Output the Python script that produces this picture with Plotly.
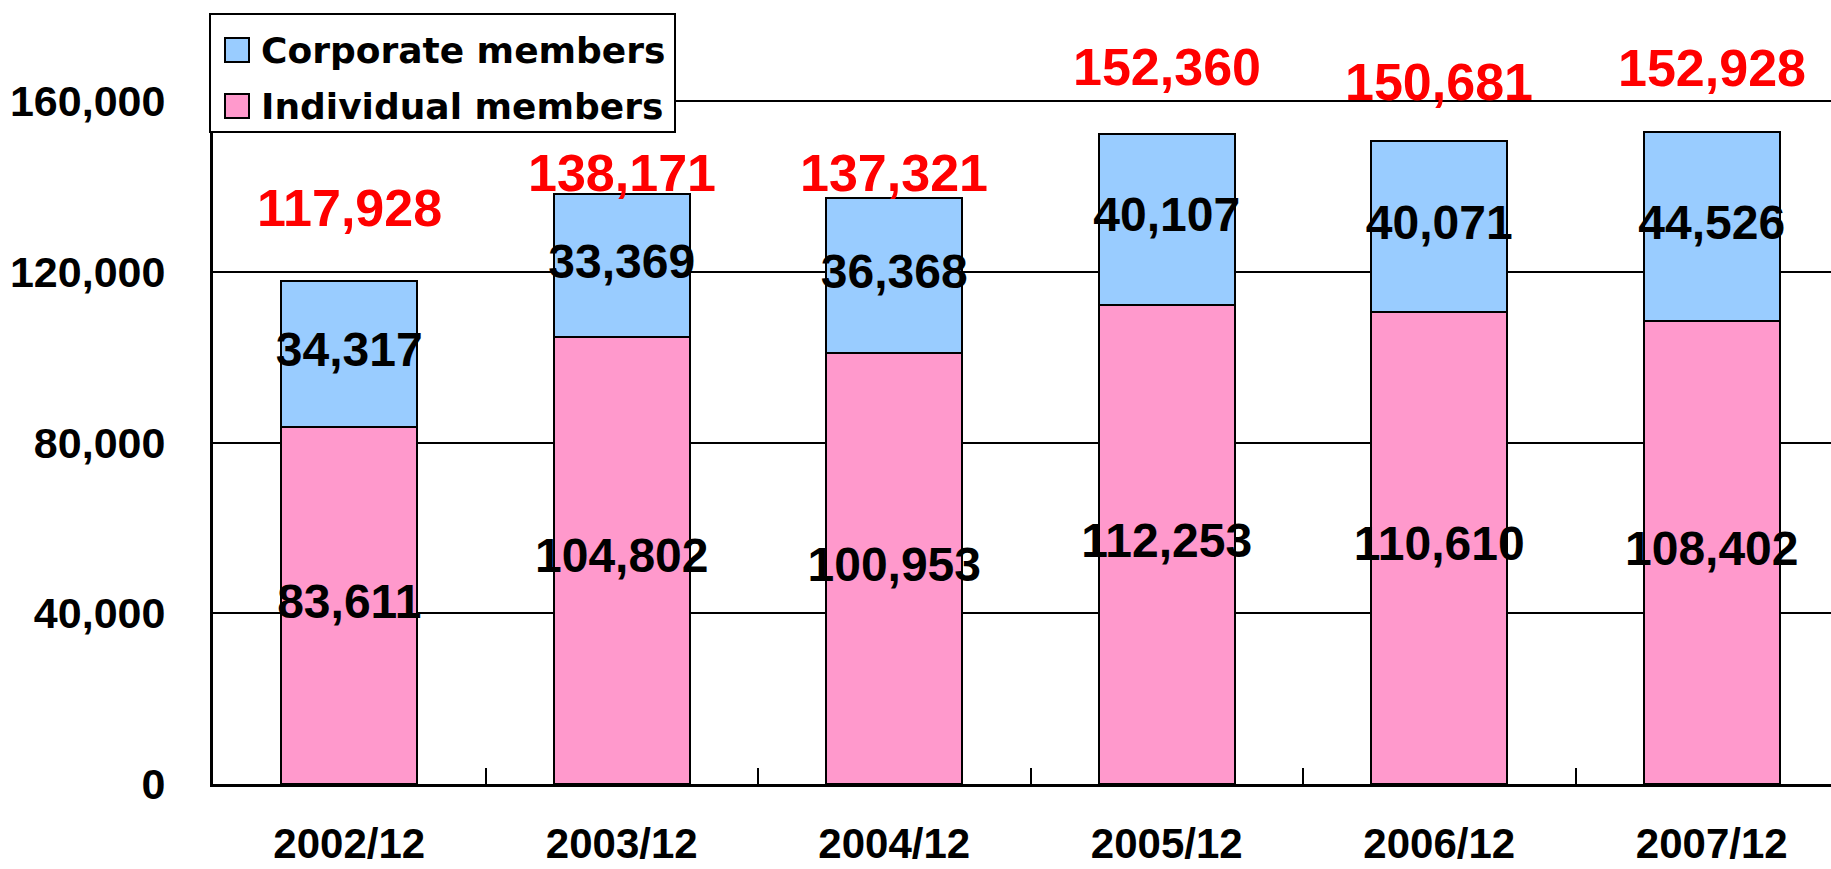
import plotly.graph_objects as go

# ---- data ----
categories = ["2002/12", "2003/12", "2004/12", "2005/12", "2006/12", "2007/12"]
individual_members = [83611, 104802, 100953, 112253, 110610, 108402]
corporate_members = [34317, 33369, 36368, 40107, 40071, 44526]
totals = [117928, 138171, 137321, 152360, 150681, 152928]
series_names = ["Corporate members", "Individual members"]
y_ticks = [0, 40000, 80000, 120000, 160000]

# ---- styling ----
PINK = "#FF99CC"
BLUE = "#99CCFF"
W, H = 1831, 869
ML, MR, MT, MB = 213, 0, 16, 85
PW, PH = W - ML - MR, H - MT - MB
CAT_PX = 272.5
total_label_shift = [73, 21, 25, 67, 59, 64]  # pixels above bar top

def fmt(v):
    return f"{v:,}"

def px_x(px):
    return (px - ML) / PW

def px_y(py):
    return (H - MB - py) / PH

fig = go.Figure()
fig.add_trace(go.Bar(
    x=categories, y=individual_members, name=series_names[1],
    marker=dict(color=PINK, line=dict(color="black", width=2)),
    width=0.5, showlegend=False, hoverinfo="skip"))
fig.add_trace(go.Bar(
    x=categories, y=corporate_members, name=series_names[0],
    marker=dict(color=BLUE, line=dict(color="black", width=2)),
    width=0.5, showlegend=False, hoverinfo="skip"))

seg_font = dict(family="Liberation Sans, Arial, sans-serif", size=48, color="black", weight="bold")
fig.add_trace(go.Scatter(
    x=categories, y=[v / 2 for v in individual_members],
    text=[fmt(v) for v in individual_members], mode="text",
    textfont=seg_font, showlegend=False, hoverinfo="skip", cliponaxis=False))
fig.add_trace(go.Scatter(
    x=categories, y=[i + c / 2 for i, c in zip(individual_members, corporate_members)],
    text=[fmt(v) for v in corporate_members], mode="text",
    textfont=seg_font, showlegend=False, hoverinfo="skip", cliponaxis=False))

annotations = []
for cat, tot, sh in zip(categories, totals, total_label_shift):
    annotations.append(dict(
        x=cat, y=tot, xref="x", yref="y", text=fmt(tot), showarrow=False,
        yshift=sh, yanchor="middle", xanchor="center",
        font=dict(family="Liberation Sans, Arial, sans-serif", size=52, color="#FF0000", weight="bold")))

# custom legend (box + swatches + labels)
shapes = []
shapes.append(dict(type="rect", xref="paper", yref="paper",
                   x0=px_x(210), x1=px_x(675), y0=px_y(132), y1=px_y(14),
                   fillcolor="white", line=dict(color="black", width=2), layer="above"))
legend_items = [(series_names[0], BLUE, 50), (series_names[1], PINK, 106)]
for name, col, cy in legend_items:
    shapes.append(dict(type="rect", xref="paper", yref="paper",
                       x0=px_x(225), x1=px_x(249), y0=px_y(cy + 12), y1=px_y(cy - 12),
                       fillcolor=col, line=dict(color="black", width=2), layer="above"))
    annotations.append(dict(
        x=px_x(259), y=px_y(cy), xref="paper", yref="paper", text=name,
        showarrow=False, xanchor="left", yanchor="middle",
        font=dict(family="DejaVu Sans, sans-serif", size=36, color="black", weight="bold")))

fig.update_layout(
    width=W, height=H,
    margin=dict(l=ML, r=MR, t=MT, b=MB, pad=0, autoexpand=False),
    paper_bgcolor="white", plot_bgcolor="white",
    barmode="stack", bargap=0.5,
    showlegend=False,
    annotations=annotations, shapes=shapes,
    xaxis=dict(
        type="category", automargin=False,
        range=[-0.5, -0.5 + PW / CAT_PX],
        showline=True, linecolor="black", linewidth=3,
        ticks="inside", tickson="boundaries", ticklen=16, tickwidth=2, tickcolor="black",
        showgrid=False, ticklabelstandoff=21,
        tickfont=dict(family="Liberation Sans, Arial, sans-serif", size=42, color="black", weight="bold"),
    ),
    yaxis=dict(
        automargin=False,
        range=[0, 180000],
        tickvals=y_ticks, ticktext=[fmt(v) for v in y_ticks],
        showline=True, linecolor="black", linewidth=3,
        showgrid=True, gridcolor="black", gridwidth=2,
        zeroline=False, ticks="", ticklabelstandoff=36,
        tickfont=dict(family="Liberation Sans, Arial, sans-serif", size=43, color="black", weight="bold"),
    ),
)

fig.write_html(
    "out.html",
    config={"displayModeBar": False},
    post_script="document.body.style.margin='0';document.body.style.overflow='hidden';",
)
